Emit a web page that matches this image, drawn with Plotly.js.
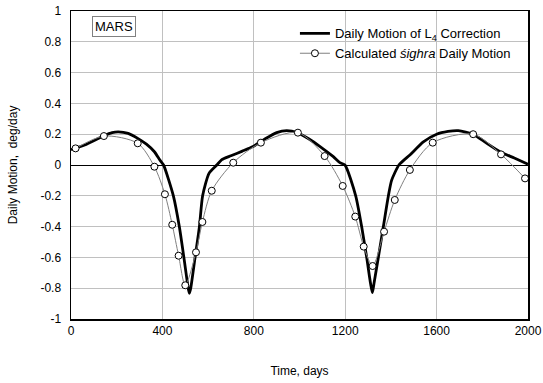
<!DOCTYPE html>
<html>
<head>
<meta charset="utf-8">
<script src="https://cdn.plot.ly/plotly-3.0.1.min.js"></script>
<style>html,body{margin:0;padding:0;background:#fff;}#chart{width:543px;height:383px;}</style>
</head>
<body>
<div id="chart"></div>
<script>
// L4 correction daily motion (thick curve)
const corrDays = [0, 60, 144, 180, 207, 250, 292, 330, 365, 390, 405, 448, 474, 494, 513, 518, 524, 543, 562, 576, 604, 638, 660, 700, 750, 797, 850, 900, 944, 990, 1040, 1090, 1148, 1177, 1199, 1246, 1272, 1294, 1311, 1319, 1326, 1345, 1367, 1389, 1403, 1435, 1483, 1542, 1600, 1650, 1695, 1760, 1820, 1877, 1940, 2000];
const corrMotion = [0.10, 0.13, 0.19, 0.21, 0.215, 0.205, 0.173, 0.135, 0.086, 0.03, 0.0, -0.2, -0.4, -0.6, -0.8, -0.833, -0.8, -0.6, -0.4, -0.2, -0.054, 0.0, 0.035, 0.06, 0.09, 0.12, 0.17, 0.21, 0.223, 0.21, 0.17, 0.12, 0.054, 0.015, 0.0, -0.2, -0.4, -0.6, -0.77, -0.829, -0.77, -0.6, -0.4, -0.2, -0.1, 0.0, 0.065, 0.15, 0.2, 0.218, 0.223, 0.2, 0.14, 0.086, 0.045, 0.005];

// Calculated sighra daily motion (circles)
const sighraDays = [20, 144, 292, 365, 411, 443, 471, 500, 547, 575, 616, 710, 831, 993, 1110, 1189, 1244, 1281, 1320, 1370, 1417, 1483, 1583, 1760, 1882, 1987];
const sighraMotion = [0.108, 0.188, 0.141, -0.011, -0.19, -0.388, -0.589, -0.781, -0.567, -0.37, -0.167, 0.015, 0.145, 0.21, 0.058, -0.136, -0.335, -0.53, -0.656, -0.433, -0.227, -0.032, 0.145, 0.2, 0.069, -0.087];

const xTickVals = [0, 400, 800, 1200, 1600, 2000];
const xTickText = ['0', '400', '800', '1200', '1600', '2000'];
const yTickVals = [-1, -0.8, -0.6, -0.4, -0.2, 0, 0.2, 0.4, 0.6, 0.8, 1];
const yTickText = ['-1', '-0.8', '-0.6', '-0.4', '-0.2', '0', '0.2', '0.4', '0.6', '0.8', '1'];

const seriesNames = ['Daily Motion of L<sub>4</sub> Correction', 'Calculated <i>śighra</i> Daily Motion'];

const traces = [
  {
    x: corrDays, y: corrMotion, type: 'scatter', mode: 'lines',
    name: seriesNames[0],
    line: {color: '#000000', width: 2.8, shape: 'spline', smoothing: 0.6}
  },
  {
    x: sighraDays, y: sighraMotion, type: 'scatter', mode: 'lines+markers',
    name: seriesNames[1],
    line: {color: '#808080', width: 1, shape: 'spline', smoothing: 0.8},
    marker: {symbol: 'circle', size: 7, color: '#ffffff', line: {color: '#000000', width: 1}}
  }
];

const font = {family: '"Liberation Sans", Arial, sans-serif', size: 12, color: '#000'};

const layout = {
  width: 543, height: 383,
  margin: {l: 71, r: 15, t: 11, b: 64},
  paper_bgcolor: '#fff', plot_bgcolor: '#fff',
  font: font,
  showlegend: true,
  legend: {
    x: 0.49, xanchor: 'left', y: 0.976, yanchor: 'top',
    bgcolor: 'rgba(0,0,0,0)', borderwidth: 0,
    font: {family: font.family, size: 13, color: '#000'},
    itemwidth: 30
  },
  xaxis: {
    range: [0, 2000], tickvals: xTickVals, ticktext: xTickText,
    showgrid: true, gridcolor: '#c0c0c0', gridwidth: 1,
    zeroline: false, showline: true, linecolor: '#000', linewidth: 1.5, mirror: true,
    ticks: '', tickfont: font,
    title: {text: 'Time, days', font: font, standoff: 29}
  },
  yaxis: {
    range: [-1, 1], tickvals: yTickVals, ticktext: yTickText,
    showgrid: true, gridcolor: '#c0c0c0', gridwidth: 1,
    zeroline: true, zerolinecolor: '#000', zerolinewidth: 1,
    showline: true, linecolor: '#000', linewidth: 1.5, mirror: true,
    ticks: '', tickfont: font, ticklabelstandoff: 6,
    title: {text: 'Daily Motion,  deg/day', font: font, standoff: 20}
  },
  annotations: [{
    xref: 'paper', yref: 'paper', x: 0.094, y: 0.95, xanchor: 'center', yanchor: 'middle',
    text: 'MARS', showarrow: false,
    font: {family: font.family, size: 13, color: '#000'},
    bgcolor: '#fff', bordercolor: '#808080', borderwidth: 1, borderpad: 2
  }]
};

Plotly.newPlot('chart', traces, layout, {displayModeBar: false, staticPlot: true});
</script>
</body>
</html>
